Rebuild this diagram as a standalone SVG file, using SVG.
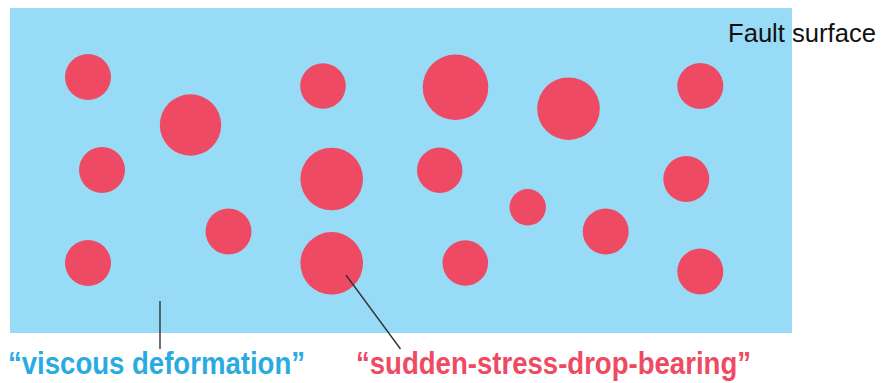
<svg xmlns="http://www.w3.org/2000/svg" width="884" height="383" viewBox="0 0 884 383">
<style>
.dot{fill:#EE4A63}
.lead{stroke:#333;stroke-width:1.4;fill:none}
.lbl{font-family:"Liberation Sans",Arial,sans-serif;font-weight:bold;font-size:32px}
</style>
<g id="fault-surface">
<rect x="10" y="8" width="782" height="325" fill="#98DBF6"/>
<text x="728" y="42" font-family="Liberation Sans, Arial, sans-serif" font-size="25" fill="#111" textLength="148" lengthAdjust="spacingAndGlyphs">Fault surface</text>
</g>
<g id="asperities">
<circle class="dot" cx="88" cy="77" r="23"/>
<circle class="dot" cx="190.5" cy="125" r="30.7"/>
<circle class="dot" cx="102" cy="170" r="23"/>
<circle class="dot" cx="228.5" cy="231.5" r="23"/>
<circle class="dot" cx="88" cy="263" r="23"/>
<circle class="dot" cx="323" cy="86" r="22.8"/>
<circle class="dot" cx="455.5" cy="87.3" r="32.8"/>
<circle class="dot" cx="568.5" cy="108.7" r="31.3"/>
<circle class="dot" cx="331.7" cy="179" r="31.3"/>
<circle class="dot" cx="439.7" cy="170.3" r="22.7"/>
<circle class="dot" cx="527.7" cy="207.3" r="18.2"/>
<circle class="dot" cx="331.7" cy="263.3" r="31.3"/>
<circle class="dot" cx="465.3" cy="263" r="22.8"/>
<circle class="dot" cx="700.3" cy="86" r="23"/>
<circle class="dot" cx="686.3" cy="179" r="23"/>
<circle class="dot" cx="605.7" cy="231.5" r="23"/>
<circle class="dot" cx="700.3" cy="271.5" r="23"/>
</g>
<g id="connectors">
<line class="lead" x1="160" y1="301" x2="160" y2="349" stroke-width="1.8"/>
<line class="lead" x1="346" y1="275" x2="400.5" y2="349"/>
</g>
<g id="label-viscous">
<text class="lbl" x="8" y="374" fill="#29ABE2" textLength="297" lengthAdjust="spacingAndGlyphs">“viscous deformation”</text>
</g>
<g id="label-sudden">
<text class="lbl" x="356" y="373.5" fill="#EE4A63" textLength="395" lengthAdjust="spacingAndGlyphs">“sudden-stress-drop-bearing”</text>
</g>
</svg>
